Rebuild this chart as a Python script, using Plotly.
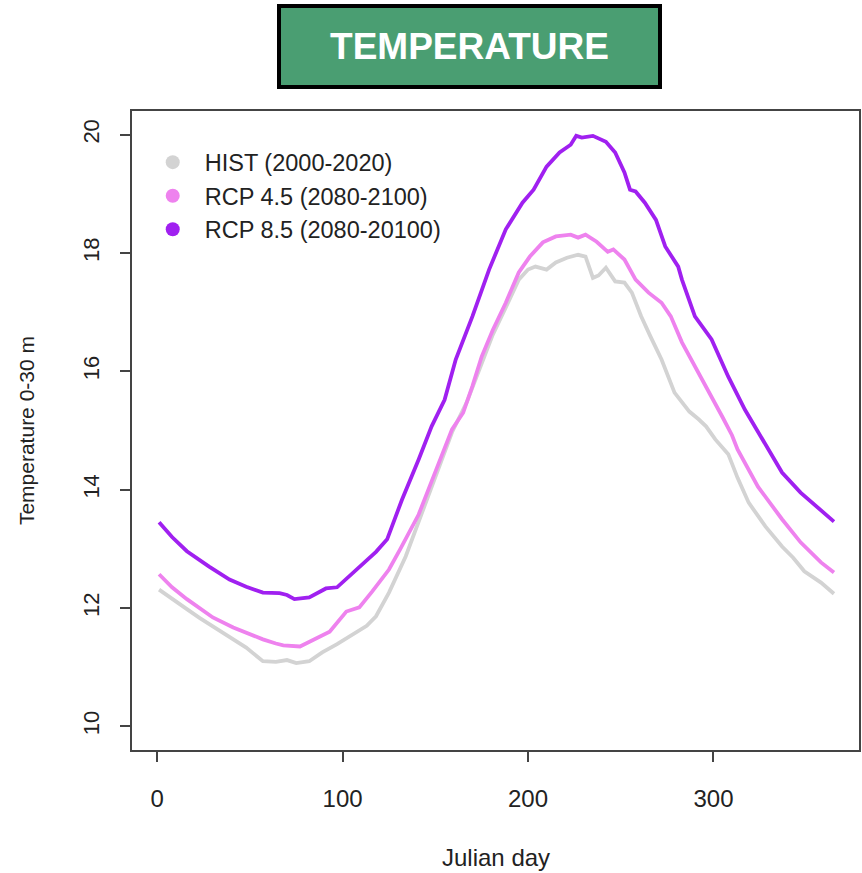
import plotly.graph_objects as go

# ---- data ----
hist_day = [1, 8, 16, 23, 30, 41, 48, 57, 64, 70, 75, 82, 89, 97, 107, 113, 118, 125, 134,
            143, 152, 159, 167, 175, 181, 188, 195, 200, 204, 210, 215, 221, 227, 231, 235,
            238, 242, 247, 252, 256, 261, 266, 272, 279, 287, 292, 296, 301, 308, 313, 319,
            328, 337, 343, 349, 358, 365]
hist_temp = [12.31, 12.15, 11.98, 11.83, 11.69, 11.47, 11.33, 11.10, 11.09, 11.12, 11.07,
             11.10, 11.25, 11.39, 11.59, 11.70, 11.86, 12.26, 12.87, 13.61, 14.39, 14.97,
             15.48, 16.15, 16.62, 17.08, 17.55, 17.72, 17.77, 17.72, 17.84, 17.92, 17.97,
             17.94, 17.58, 17.62, 17.75, 17.52, 17.50, 17.33, 16.93, 16.59, 16.20, 15.64,
             15.32, 15.19, 15.07, 14.85, 14.60, 14.20, 13.78, 13.38, 13.04, 12.85, 12.62,
             12.43, 12.24]

rcp45_day = [1, 8, 16, 23, 30, 41, 50, 57, 64, 68, 77, 86, 93, 102, 109, 116, 125, 131, 136,
             141, 150, 159, 165, 170, 175, 181, 188, 195, 201, 208, 215, 223, 227, 231, 237,
             243, 246, 252, 258, 265, 272, 277, 283, 292, 301, 305, 310, 313, 324, 337, 347,
             358, 365]
rcp45_temp = [12.57, 12.35, 12.15, 11.99, 11.84, 11.67, 11.55, 11.47, 11.40, 11.37, 11.35,
              11.50, 11.60, 11.94, 12.01, 12.28, 12.65, 12.99, 13.30, 13.58, 14.30, 15.02,
              15.30, 15.75, 16.25, 16.70, 17.16, 17.67, 17.94, 18.18, 18.28, 18.31, 18.26,
              18.31, 18.19, 18.02, 18.06, 17.89, 17.55, 17.33, 17.16, 16.93, 16.49, 15.98,
              15.47, 15.22, 14.92, 14.68, 14.05, 13.50, 13.11, 12.77, 12.60]

rcp85_day = [1, 8, 16, 23, 28, 39, 48, 57, 66, 70, 74, 82, 91, 97, 104, 111, 118, 124, 132,
             141, 148, 155, 161, 170, 179, 188, 197, 203, 210, 217, 223, 226, 229, 235, 242,
             247, 252, 255, 258, 263, 269, 274, 281, 283, 290, 299, 308, 317, 328, 337, 347,
             356, 365]
rcp85_temp = [13.45, 13.20, 12.96, 12.80, 12.70, 12.48, 12.36, 12.26, 12.25, 12.22, 12.15,
              12.18, 12.33, 12.35, 12.55, 12.77, 12.95, 13.16, 13.83, 14.51, 15.07, 15.52,
              16.20, 16.93, 17.72, 18.40, 18.85, 19.07, 19.46, 19.70, 19.83, 19.98, 19.95,
              19.98, 19.88, 19.70, 19.36, 19.07, 19.04, 18.85, 18.56, 18.11, 17.77, 17.55,
              16.93, 16.54, 15.91, 15.35, 14.77, 14.29, 13.95, 13.70, 13.46]

series_names = ["HIST (2000-2020)", "RCP 4.5 (2080-2100)", "RCP 8.5 (2080-20100)"]
series_colors = ["#d3d3d3", "#ee82ee", "#a020f0"]

x_ticks = [0, 100, 200, 300]
y_ticks = [10, 12, 14, 16, 18, 20]

FONT = "Liberation Sans, Arial, Helvetica, sans-serif"

fig = go.Figure()
for d, t, c in zip([hist_day, rcp45_day, rcp85_day],
                   [hist_temp, rcp45_temp, rcp85_temp], series_colors):
    fig.add_trace(go.Scatter(x=d, y=t, mode="lines", line=dict(color=c, width=3.8),
                             showlegend=False, hoverinfo="skip"))
# legend entries (filled circles, like R's pch=19)
for n, c in zip(series_names, series_colors):
    fig.add_trace(go.Scatter(x=[None], y=[None], mode="markers", name=n,
                             marker=dict(color=c, size=14, symbol="circle")))

axis_common = dict(showline=True, mirror=True, linecolor="#444", linewidth=1.5,
                   ticks="outside", ticklen=10, tickwidth=1.5, tickcolor="#444",
                   showgrid=False, zeroline=False)

fig.update_layout(
    width=862, height=873,
    margin=dict(l=132, r=1, t=111, b=123),
    paper_bgcolor="white", plot_bgcolor="white",
    font=dict(family=FONT, color="#222"),
    xaxis=dict(range=[-13.6, 378.5], tickvals=x_ticks, ticklabelstandoff=16,
               tickfont=dict(family=FONT, size=24, color="#222"), **axis_common),
    yaxis=dict(range=[9.6, 20.4], tickvals=y_ticks, tickangle=-90, ticklabelstandoff=12,
               tickfont=dict(family=FONT, size=22, color="#222"), **axis_common),
    legend=dict(x=0.012, y=0.954, xanchor="left", yanchor="top",
                font=dict(family=FONT, size=23.5, color="#222"),
                bgcolor="rgba(0,0,0,0)", itemwidth=54, tracegroupgap=0),
    annotations=[
        dict(text="<b>TEMPERATURE</b>", xref="paper", yref="paper", x=0.4637, y=1.101,
             xanchor="center", yanchor="middle", showarrow=False,
             font=dict(family=FONT, size=37, color="white"),
             bgcolor="#4a9e72", bordercolor="black", borderwidth=4,
             width=375, height=75),
        dict(text="Julian day", xref="paper", yref="paper", x=0.5, y=-0.169,
             xanchor="center", yanchor="middle", showarrow=False,
             font=dict(family=FONT, size=24, color="#222")),
        dict(text="Temperature 0-30 m", xref="paper", yref="paper", x=-0.145, y=0.5,
             xanchor="center", yanchor="middle", showarrow=False, textangle=-90,
             font=dict(family=FONT, size=21, color="#222")),
    ],
)

# remove the browser's default 8px body margin so the figure fills the window exactly
fig.write_html("out.html", config={"displayModeBar": False},
               post_script="document.body.style.margin='0';")
